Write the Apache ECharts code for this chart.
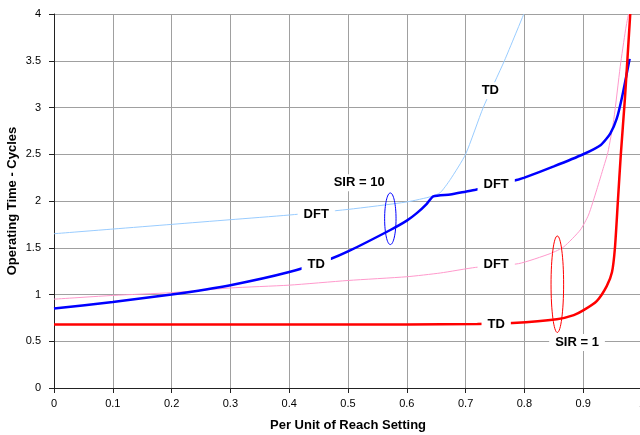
<!DOCTYPE html>
<html>
<head>
<meta charset="utf-8">
<script src="https://cdn.jsdelivr.net/npm/echarts@6/dist/echarts.min.js"></script>
<style>
html,body{margin:0;padding:0;background:#fff;}
#chart{width:640px;height:435px;}
</style>
</head>
<body>
<div id="chart"></div>
<script>
// ---- data ----
const sir10Thin = [[0,1.65],[0.1,1.70],[0.2,1.75],[0.3,1.80],[0.4,1.85],[0.5,1.91],[0.6,1.99],[0.643,2.05],[0.657,2.09],[0.674,2.23],[0.70,2.50],[0.73,3.0],[0.766,3.5],[0.799,4.0]];
const sir10Thick = [[0,0.85],[0.1,0.92],[0.2,1.0],[0.3,1.1],[0.4,1.24],[0.47,1.38],[0.5,1.46],[0.572,1.69],[0.6,1.79],[0.617,1.87],[0.634,1.97],[0.645,2.05],[0.674,2.07],[0.7,2.10],[0.717,2.12],[0.79,2.23],[0.8,2.25],[0.85,2.37],[0.9,2.5],[0.93,2.6],[0.946,2.72],[0.957,2.88],[0.966,3.11],[0.979,3.52]];
const sir1Thin = [[0,0.95],[0.1,0.99],[0.2,1.02],[0.3,1.07],[0.4,1.10],[0.5,1.15],[0.6,1.19],[0.657,1.23],[0.717,1.29],[0.79,1.33],[0.845,1.44],[0.867,1.51],[0.895,1.69],[0.909,1.85],[0.923,2.12],[0.935,2.37],[0.942,2.52],[0.952,2.87],[0.963,3.44],[0.972,3.83],[0.977,4.0]];
const sir1Thick = [[0,0.68],[0.3,0.68],[0.6,0.68],[0.72,0.685],[0.78,0.695],[0.855,0.735],[0.884,0.78],[0.9,0.83],[0.923,0.93],[0.94,1.09],[0.949,1.24],[0.954,1.5],[0.959,2.0],[0.964,2.5],[0.971,3.1],[0.98,4.0]];

const annotX = [0.742, 0.446, 0.519, 0.446, 0.752, 0.752, 0.752, 0.8895];
const annotY = [3.18, 1.86, 2.195, 1.325, 2.172, 1.325, 0.684, 0.487];
const annotText = ['TD', 'DFT', 'SIR = 10', 'TD', 'DFT', 'DFT', 'TD', 'SIR = 1'];

const ellipseCenters = [[0.572, 1.81], [0.856, 1.11]];
const ellipseRadii = [[0.0097, 0.276], [0.0107, 0.516]];

const xMin = 0, xMax = 1, xStep = 0.1;
const yMin = 0, yMax = 4, yStep = 0.5;

// ---- chart ----
const chart = echarts.init(document.getElementById('chart'), null, {renderer: 'canvas'});
const font = 'Liberation Sans, Arial, sans-serif';
const ellipseColors = ['#0000ff', '#ff0000'];

const annotData = annotText.map((t, i) => ({value: [annotX[i], annotY[i]], name: t}));
const ellipseData = ellipseCenters.map((c, i) => [c[0], c[1], ellipseRadii[i][0], ellipseRadii[i][1]]);

const lineBase = {type: 'line', showSymbol: false, smooth: 0.2, animation: false, z: 3};

chart.setOption({
  animation: false,
  backgroundColor: '#fff',
  grid: {left: 54, right: -2, top: 14, bottom: 47, containLabel: false, outerBoundsMode: 'none'},
  xAxis: {
    type: 'value', min: xMin, max: xMax, interval: xStep,
    name: 'Per Unit of Reach Setting', nameLocation: 'middle', nameGap: 31, nameMoveOverlap: false,
    nameTextStyle: {fontFamily: font, fontSize: 13, fontWeight: 'bold', color: '#000'},
    axisLine: {show: true, onZero: false, lineStyle: {color: '#222', width: 1}},
    axisTick: {show: true, length: 5, lineStyle: {color: '#222'}},
    axisLabel: {fontFamily: font, fontSize: 11, color: '#000', margin: 10, showMaxLabel: true, hideOverlap: false},
    splitLine: {show: true, lineStyle: {color: '#a0a0a0', width: 1}}
  },
  yAxis: {
    type: 'value', min: yMin, max: yMax, interval: yStep,
    name: 'Operating Time - Cycles', nameLocation: 'middle', nameGap: 35, nameRotate: 90, nameMoveOverlap: false,
    nameTextStyle: {fontFamily: font, fontSize: 13, fontWeight: 'bold', color: '#000'},
    axisLine: {show: true, onZero: false, lineStyle: {color: '#222', width: 1}},
    axisTick: {show: true, length: 5, lineStyle: {color: '#222'}},
    axisLabel: {fontFamily: font, fontSize: 11, color: '#000', margin: 13},
    splitLine: {show: true, lineStyle: {color: '#a0a0a0', width: 1}}
  },
  series: [
    Object.assign({}, lineBase, {name: 'SIR10 thin', data: sir10Thin, lineStyle: {color: '#99ccff', width: 1}}),
    Object.assign({}, lineBase, {name: 'SIR1 thin', data: sir1Thin, lineStyle: {color: '#ff99cc', width: 1}}),
    Object.assign({}, lineBase, {name: 'SIR10 thick', data: sir10Thick, lineStyle: {color: '#0000ff', width: 2.5}}),
    Object.assign({}, lineBase, {name: 'SIR1 thick', data: sir1Thick, lineStyle: {color: '#ff0000', width: 2.5}}),
    {
      type: 'scatter', name: 'labels', data: annotData, symbolSize: 0, z: 6, animation: false, silent: true,
      itemStyle: {opacity: 1, color: '#fff'},
      label: {
        show: true, position: 'inside', formatter: p => p.name, opacity: 1,
        fontFamily: font, fontSize: 13, fontWeight: 'bold', color: '#000',
        backgroundColor: '#fff', padding: [2, 6]
      }
    },
    {
      type: 'custom', name: 'ellipses', data: ellipseData, z: 7, animation: false, silent: true,
      renderItem: function (params, api) {
        const c = api.coord([api.value(0), api.value(1)]);
        const s = api.size([api.value(2), api.value(3)]);
        return {
          type: 'ellipse',
          shape: {cx: c[0], cy: c[1], rx: s[0], ry: s[1]},
          style: {fill: 'none', stroke: ellipseColors[params.dataIndex], lineWidth: 1}
        };
      }
    }
  ]
});
</script>
</body>
</html>
